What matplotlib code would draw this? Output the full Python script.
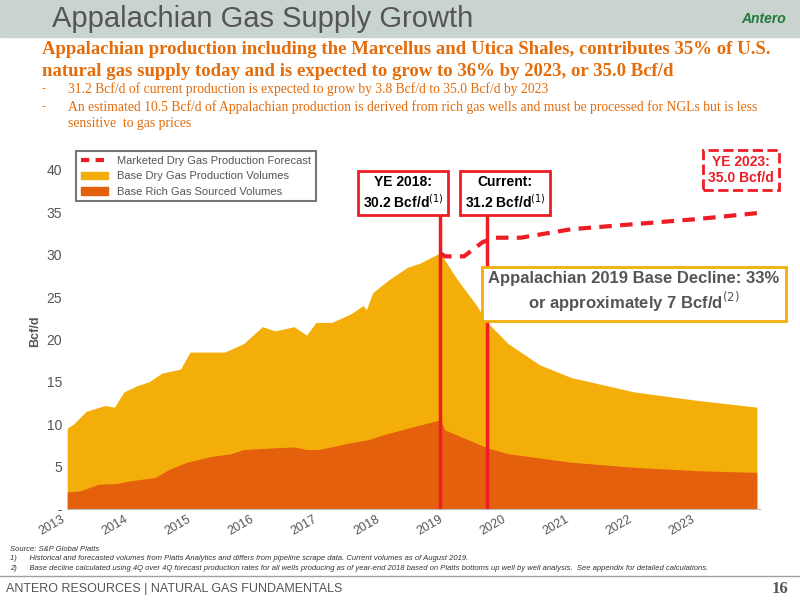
import numpy as np
import matplotlib.pyplot as plt
from matplotlib.patches import Rectangle
from matplotlib.lines import Line2D
from matplotlib.patches import Patch

# total base dry gas production (Bcf/d)
dry_x = [2013.0, 2013.1, 2013.3, 2013.6, 2013.75, 2013.9, 2014.1, 2014.3, 2014.5, 2014.8, 2014.95,
         2015.1, 2015.5, 2015.8, 2016.1, 2016.3, 2016.6, 2016.8, 2016.95, 2017.2, 2017.5, 2017.7,
         2017.75, 2017.85, 2018.1, 2018.4, 2018.6, 2018.92, 2019.2, 2019.5, 2019.67, 2020.0,
         2020.5, 2021.0, 2022.0, 2023.0, 2023.95]
dry_y = [9.5, 10.0, 11.5, 12.2, 12.0, 13.8, 14.5, 15.0, 16.0, 16.5, 18.5,
         18.5, 18.5, 19.5, 21.5, 21.0, 21.5, 20.5, 22.0, 22.0, 23.0, 24.0,
         23.5, 25.5, 27.0, 28.5, 29.0, 30.2, 27.0, 24.0, 22.0, 19.5,
         17.0, 15.5, 13.8, 12.8, 12.0]
# rich gas sourced volumes
rich_x = [2013.0, 2013.2, 2013.5, 2013.8, 2014.0, 2014.4, 2014.6, 2014.9, 2015.3, 2015.6, 2015.8,
          2016.3, 2016.6, 2016.8, 2017.0, 2017.5, 2017.8, 2018.0, 2018.4, 2018.92, 2019.0,
          2019.67, 2020.0, 2021.0, 2022.0, 2023.0, 2023.95]
rich_y = [2.0, 2.1, 2.9, 3.0, 3.3, 3.7, 4.6, 5.5, 6.2, 6.5, 7.0,
          7.2, 7.3, 7.0, 7.0, 7.8, 8.2, 8.7, 9.5, 10.5, 9.3,
          7.2, 6.5, 5.5, 4.9, 4.5, 4.3]
# marketed dry gas production forecast
fc_x = [2018.92, 2019.0, 2019.3, 2019.6, 2019.8, 2020.2, 2020.6, 2021.0, 2022.0, 2023.0, 2023.95]
fc_y = [30.2, 29.8, 29.8, 31.5, 32.0, 32.0, 32.5, 33.0, 33.6, 34.2, 34.9]
years = list(range(2013, 2024))

orange = '#E46C0A'
red = '#EE1C25'

fig = plt.figure(figsize=(8, 6), dpi=100)
plt.rcParams['font.family'] = ['Liberation Sans', 'DejaVu Sans']

# header banner
fig.patches.append(Rectangle((0, 0.938), 1, 0.062, transform=fig.transFigure, color='#C9D3D0', zorder=0))
fig.text(0.065, 0.968, 'Appalachian Gas Supply Growth', fontsize=21, color='#555555', va='center')
fig.text(0.955, 0.968, 'Antero', fontsize=10, color='#1F7A3A', style='italic', fontweight='bold', ha='center', va='center')
fig.text(0.052, 0.917, 'Appalachian production including the Marcellus and Utica Shales, contributes 35% of U.S.',
         fontsize=13.5, color=orange, fontweight='bold', family='Liberation Serif', va='center')
fig.text(0.052, 0.880, 'natural gas supply today and is expected to grow to 36% by 2023, or 35.0 Bcf/d',
         fontsize=13.5, color=orange, fontweight='bold', family='Liberation Serif', va='center')
fig.text(0.052, 0.851, '-', fontsize=9, color=orange, va='center')
fig.text(0.085, 0.851, '31.2 Bcf/d of current production is expected to grow by 3.8 Bcf/d to 35.0 Bcf/d by 2023',
         fontsize=9.8, color=orange, family='Liberation Serif', va='center')
fig.text(0.052, 0.822, '-', fontsize=9, color=orange, va='center')
fig.text(0.085, 0.822, 'An estimated 10.5 Bcf/d of Appalachian production is derived from rich gas wells and must be processed for NGLs but is less',
         fontsize=9.8, color=orange, family='Liberation Serif', va='center')
fig.text(0.085, 0.794, 'sensitive  to gas prices', fontsize=9.8, color=orange, family='Liberation Serif', va='center')

ax = fig.add_axes([0.084, 0.152, 0.866, 0.593])
ax.fill_between(dry_x, dry_y, color='#F4AE0A', lw=0)
ax.fill_between(rich_x, rich_y, color='#E5600C', lw=0)
ax.plot(fc_x, fc_y, color=red, lw=3, ls=(0, (3, 2)))
for x in (2018.92, 2019.67):
    ax.plot([x, x], [0, 35.5], color=red, lw=2.5)

ax.set_xlim(2013, 2024)
ax.set_ylim(0, 42)
ax.set_yticks(range(0, 41, 5))
ax.set_yticklabels(['-'] + [str(v) for v in range(5, 41, 5)])
ax.set_xticks(years)
ax.set_xticklabels([str(y) for y in years], rotation=30, ha='right', fontsize=9, color='#555555')
ax.tick_params(axis='y', labelsize=10, colors='#555555', length=0)
ax.tick_params(axis='x', length=0)
ax.set_ylabel('Bcf/d', fontsize=9, fontweight='bold', color='#555555')
for s in ('top', 'right', 'left'):
    ax.spines[s].set_visible(False)
ax.spines['bottom'].set_color('#BBBBBB')

bx = dict(boxstyle='square,pad=0.35', fc='white', ec=red, lw=2)
ax.text(2018.33, 37.3, 'YE 2018:\n30.2 Bcf/d$^{(1)}$', fontsize=10, fontweight='bold', ha='center', va='center', bbox=bx)
ax.text(2019.95, 37.3, 'Current:\n31.2 Bcf/d$^{(1)}$', fontsize=10, fontweight='bold', ha='center', va='center', bbox=bx)
ax.text(2023.7, 40.0, 'YE 2023:\n35.0 Bcf/d', fontsize=10, fontweight='bold', ha='center', va='center', color=red,
        bbox=dict(boxstyle='square,pad=0.35', fc='white', ec=red, lw=2, ls='--'))
ax.text(2022.0, 25.5, 'Appalachian 2019 Base Decline: 33%\nor approximately 7 Bcf/d$^{(2)}$', fontsize=12,
        fontweight='bold', color='#555555', ha='center', va='center',
        bbox=dict(boxstyle='square,pad=0.4', fc='white', ec='#F4AE0A', lw=2))

handles = [Line2D([], [], color=red, lw=3, ls=(0, (2, 1.5))),
           Patch(color='#F4AE0A'), Patch(color='#E5600C')]
leg = ax.legend(handles, ['Marketed Dry Gas Production Forecast', 'Base Dry Gas Production Volumes',
                          'Base Rich Gas Sourced Volumes'],
                loc='upper left', bbox_to_anchor=(0.005, 1.02), fontsize=8, fancybox=False,
                edgecolor='#555555', labelcolor='#555555', handlelength=2.5)
leg.get_frame().set_linewidth(1.5)

# footnotes and footer
fig.text(0.012, 0.082, 'Source: S&P Global Platts', fontsize=5.5, style='italic', color='#333333')
fig.text(0.012, 0.066, '1)      Historical and forecasted volumes from Platts Analytics and differs from pipeline scrape data. Current volumes as of August 2019.',
         fontsize=5.5, style='italic', color='#333333')
fig.text(0.012, 0.050, '2)      Base decline calculated using 4Q over 4Q forecast production rates for all wells producing as of year-end 2018 based on Platts bottoms up well by well analysis.  See appendix for detailed calculations.',
         fontsize=5.5, style='italic', color='#333333')
fig.add_artist(Line2D([0, 1], [0.040, 0.040], color='#A0A0A0', lw=1, transform=fig.transFigure))
fig.text(0.008, 0.018, 'ANTERO RESOURCES | NATURAL GAS FUNDAMENTALS', fontsize=9, color='#555555', va='center')
fig.text(0.985, 0.018, '16', fontsize=12, fontweight='bold', color='#555555', family='Liberation Serif', ha='right', va='center')

fig.savefig('out.png', dpi=100)
